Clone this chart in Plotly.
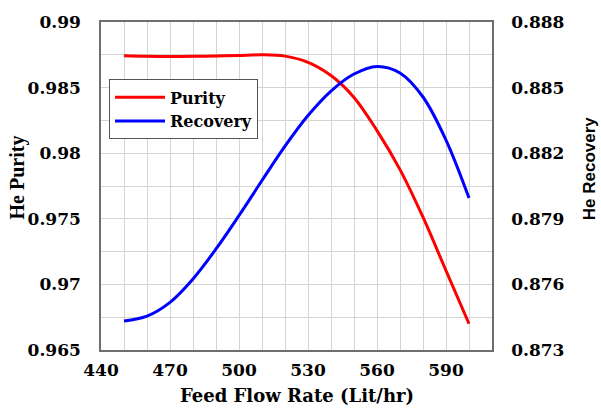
import plotly.graph_objects as go

flow = [450, 460, 470, 480, 490, 500, 510, 520, 530, 540, 550, 560, 570, 580, 590, 600]
purity = [0.98742, 0.98738, 0.98737, 0.98738, 0.98740, 0.98745, 0.98750, 0.98740,
          0.98693, 0.98592, 0.98425, 0.98172, 0.97875, 0.97512, 0.97105, 0.96700]
recovery = [0.87433, 0.87455, 0.87518, 0.87625, 0.87762, 0.87915, 0.88075, 0.88232,
            0.88372, 0.88484, 0.88562, 0.88597, 0.88567, 0.88457, 0.88260, 0.87995]

x_ticks = [440, 470, 500, 530, 560, 590]
y1_ticks = [0.965, 0.97, 0.975, 0.98, 0.985, 0.99]
y1_labels = ["0.965", "0.97", "0.975", "0.98", "0.985", "0.99"]
y2_ticks = [0.873, 0.876, 0.879, 0.882, 0.885, 0.888]
y2_labels = ["0.873", "0.876", "0.879", "0.882", "0.885", "0.888"]

TICKFONT = dict(family="DejaVu Serif", size=17, color="black", weight="bold")
GRID = "#d4d4d4"
AXIS = "#6e6e6e"

fig = go.Figure()
fig.add_trace(go.Scatter(x=flow, y=purity, name="Purity", mode="lines",
                         line=dict(color="#ff0000", width=3, shape="spline", smoothing=1.0),
                         yaxis="y"))
fig.add_trace(go.Scatter(x=flow, y=recovery, name="Recovery", mode="lines",
                         line=dict(color="#0000ff", width=3, shape="spline", smoothing=1.0),
                         yaxis="y2"))

fig.update_layout(
    width=601, height=408,
    margin=dict(l=101, r=109, t=19, b=58),
    paper_bgcolor="white", plot_bgcolor="white",
    xaxis=dict(range=[440, 610], tickvals=x_ticks, ticktext=[str(v) for v in x_ticks],
               showgrid=True, gridcolor=GRID, gridwidth=1,
               minor=dict(dtick=10, tick0=440, showgrid=True, gridcolor=GRID, gridwidth=1),
               showline=True, linecolor=AXIS, linewidth=1.5, mirror=True,
               ticks="", tickfont=TICKFONT, ticklabelstandoff=4, zeroline=False),
    yaxis=dict(range=[0.965, 0.99], tickvals=y1_ticks, ticktext=y1_labels,
               showgrid=True, gridcolor=GRID, gridwidth=1,
               minor=dict(dtick=0.0025, tick0=0.965, showgrid=True, gridcolor=GRID, gridwidth=1),
               showline=True, linecolor=AXIS, linewidth=1.5, mirror=True,
               ticks="", tickfont=TICKFONT, ticklabelstandoff=15, zeroline=False),
    yaxis2=dict(range=[0.873, 0.888], tickvals=y2_ticks, ticktext=y2_labels,
                overlaying="y", side="right", showgrid=False,
                showline=True, linecolor=AXIS, linewidth=1.5,
                ticks="", tickfont=TICKFONT, ticklabelstandoff=14, zeroline=False),
    legend=dict(x=0.0205, y=0.825, xanchor="left", yanchor="top",
                bgcolor="white", bordercolor="#555555", borderwidth=1,
                itemwidth=50,
                font=dict(family="DejaVu Serif", size=16, color="black", weight="bold")),
    annotations=[
        dict(text="He Purity", xref="paper", yref="paper", x=-0.2145, y=0.5264,
             textangle=-90, showarrow=False, xanchor="center", yanchor="middle",
             font=dict(family="Liberation Serif", size=20, color="black", weight="bold")),
        dict(text="He Recovery", xref="paper", yref="paper", x=1.2483, y=0.5545,
             textangle=-90, showarrow=False, xanchor="center", yanchor="middle",
             font=dict(family="Liberation Sans", size=17, color="black", weight="bold")),
        dict(text="Feed Flow Rate (Lit/hr)", xref="paper", yref="paper", x=0.502, y=-0.1394,
             showarrow=False, xanchor="center", yanchor="middle",
             font=dict(family="DejaVu Serif", size=18, color="black", weight="bold")),
    ],
)

fig.write_html("out.html")
